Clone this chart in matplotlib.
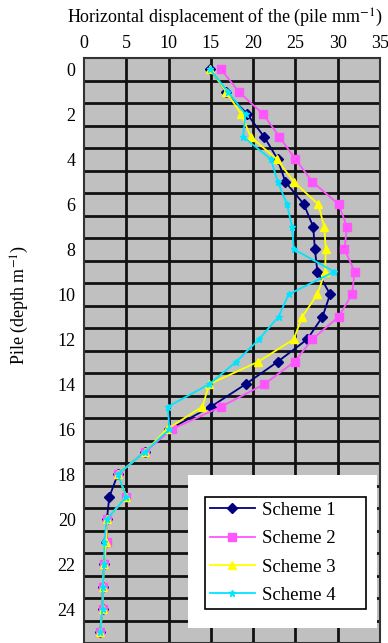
import matplotlib
matplotlib.use("Agg")
import matplotlib.pyplot as plt
from matplotlib.patches import Rectangle

plt.rcParams["font.family"] = ["Liberation Serif", "DejaVu Serif"]
plt.rcParams["mathtext.fontset"] = "stix"

# pile depth (m) and horizontal displacement (mm) for each scheme
depth = list(range(26))
scheme1 = [14.9, 16.8, 19.3, 21.3, 22.9, 23.8, 26.0, 27.1, 27.3, 27.6, 29.1, 28.2, 26.4,
           22.9, 19.1, 15.0, 10.1, 7.2, 4.0, 3.0, 2.7, 2.6, 2.4, 2.2, 2.2, 1.9]
scheme2 = [16.2, 18.3, 21.2, 23.1, 25.0, 27.0, 30.1, 31.1, 30.8, 32.0, 31.7, 30.1, 27.0,
           24.9, 21.3, 16.2, 10.4, 7.2, 4.0, 5.0, 2.7, 2.7, 2.4, 2.2, 2.2, 1.9]
scheme3 = [14.9, 16.8, 18.6, 19.7, 22.8, 24.8, 27.7, 28.4, 28.6, 28.5, 27.6, 25.8, 24.8,
           20.6, 14.8, 14.0, 9.8, 7.2, 4.0, 5.0, 2.7, 2.6, 2.4, 2.2, 2.2, 1.9]
scheme4 = [14.9, 17.0, 19.1, 18.8, 22.1, 22.9, 24.0, 24.6, 24.8, 29.6, 24.2, 23.0, 20.7,
           18.0, 14.8, 9.9, 10.1, 7.2, 4.0, 5.0, 2.7, 2.4, 2.4, 2.2, 2.2, 1.9]
labels = ["Scheme 1", "Scheme 2", "Scheme 3", "Scheme 4"]

fig = plt.figure(figsize=(3.88, 6.43), dpi=100)
ax = fig.add_axes([84 / 388, 0.0, 296 / 388, 1 - 58 / 643])
ax.set_facecolor("#c0c0c0")

ax.plot(scheme1, depth, color="#000080", marker="D", ms=5, lw=1.3, label=labels[0])
ax.plot(scheme2, depth, color="#ff55ff", marker="s", ms=6, lw=1.3, label=labels[1])
ax.plot(scheme3, depth, color="#ffff00", marker="^", ms=6, lw=1.3, label=labels[2])
ax.plot(scheme4, depth, color="#00e5ff", marker="*", ms=5, lw=1.3, label=labels[3])

ax.set_xlim(0, 35)
ax.set_ylim(25.5, -0.5)
ax.set_xticks(range(0, 36, 5))
ax.set_yticks(range(0, 25, 2))
ax.xaxis.tick_top()
ax.tick_params(axis="x", length=0, pad=4, labelsize=13)
ax.tick_params(axis="y", length=0, pad=6, labelsize=13)
for x in range(5, 35, 5):
    ax.axvline(x, color="#111111", lw=2, zorder=0.5)
for k in range(25):
    ax.axhline(k + 0.5, color="#111111", lw=2, zorder=0.5)
for s in ax.spines.values():
    s.set_color("#333333")
    s.set_linewidth(1.5)

fig.text(225 / 388, 1 - 18 / 643, "Horizontal displacement of the (pile mm$^{-1}$)",
         ha="center", va="center", fontsize=13)
fig.text(20 / 388, 1 - 305 / 643, "Pile (depth m$^{-1}$)", ha="center", va="center",
         rotation=90, fontsize=13)

ax.add_patch(Rectangle((188 / 388, 1 - 628 / 643), 189 / 388, 153 / 643,
                       transform=fig.transFigure, facecolor="white", edgecolor="none",
                       zorder=5, clip_on=False))
leg = ax.legend(loc="upper left",
                bbox_to_anchor=(205 / 388, 1 - 605 / 643, 161 / 388, 108 / 643),
                bbox_transform=fig.transFigure, mode="expand", fontsize=13.5,
                fancybox=False, framealpha=1, edgecolor="black", handlelength=2.4,
                labelspacing=0.6, borderpad=0.25, handletextpad=0.4, borderaxespad=0)
leg.set_zorder(6)
leg.get_frame().set_linewidth(1.2)

fig.savefig("out.png", dpi=100)
